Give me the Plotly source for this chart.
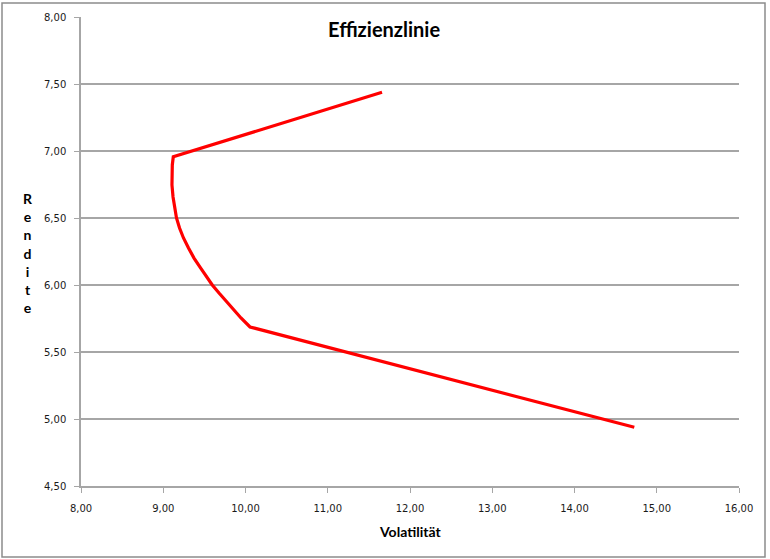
import plotly.graph_objects as go

# Data
volatility = [11.66, 9.122, 9.110, 9.104, 9.106, 9.119, 9.137, 9.161, 9.198, 9.246,
              9.307, 9.374, 9.447, 9.520, 9.596, 9.678, 9.763, 9.848, 9.945, 10.055, 14.727]
rendite = [7.438, 6.957, 6.896, 6.821, 6.746, 6.657, 6.575, 6.500, 6.425, 6.351,
           6.276, 6.201, 6.134, 6.067, 6.000, 5.940, 5.881, 5.821, 5.754, 5.687, 4.938]
title_text = "Effizienzlinie"
x_title = "Volatilität"
y_title = "Rendite"
x_ticks = [8, 9, 10, 11, 12, 13, 14, 15, 16]
y_ticks = [4.5, 5.0, 5.5, 6.0, 6.5, 7.0, 7.5, 8.0]

W, H = 770, 559
L, R, T, B = 81, 31, 17, 73
pw, ph = W - L - R, H - T - B

def px(xp):
    return (xp - L) / pw

def py(yp):
    return (H - B - yp) / ph

FONT = "Lato, 'Open Sans', sans-serif"
TICKFONT = "'DejaVu Sans', Verdana, sans-serif"

fig = go.Figure()
fig.add_trace(go.Scatter(
    x=volatility, y=rendite, mode="lines",
    line=dict(color="#ff0000", width=3.2),
    showlegend=False, hoverinfo="x+y",
))

axis_common = dict(
    showline=True, linecolor="#a6a6a6", linewidth=1.5,
    ticks="outside", ticklen=5, tickcolor="#a6a6a6", tickwidth=1,
    tickformat=".2f", tickfont=dict(family=TICKFONT, size=10, color="#1a1a1a"),
    zeroline=False, mirror=False,
)

fig.update_layout(
    width=W, height=H,
    margin=dict(l=L, r=R, t=T, b=B, pad=0),
    paper_bgcolor="white", plot_bgcolor="white",
    separators=",.",
    xaxis=dict(range=[8, 16], tickvals=x_ticks, showgrid=False,
               ticklabelstandoff=7, **axis_common),
    yaxis=dict(range=[4.5, 8], tickvals=y_ticks, showgrid=True,
               gridcolor="#a6a6a6", gridwidth=1.5, ticklabelstandoff=6,
               **axis_common),
    annotations=[
        dict(text="<b>" + title_text + "</b>", xref="paper", yref="paper",
             x=px(384), y=py(29), xanchor="center", yanchor="middle",
             showarrow=False, font=dict(family=FONT, size=20, color="#000")),
        dict(text="<b>" + x_title + "</b>", xref="paper", yref="paper",
             x=px(410), y=py(531), xanchor="center", yanchor="middle",
             showarrow=False, font=dict(family=FONT, size=14, color="#000")),
        dict(text="<b>" + "<br>".join(list(y_title)) + "</b>", xref="paper", yref="paper",
             x=px(28), y=py(253), xanchor="center", yanchor="middle",
             showarrow=False, font=dict(family=FONT, size=14, color="#000")),
    ],
    shapes=[
        dict(type="rect", xref="paper", yref="paper",
             x0=px(2), x1=px(765), y0=py(557), y1=py(3),
             line=dict(color="#8c8c8c", width=1.5), layer="below"),
    ],
)

fig.write_html(
    "out.html",
    config={"displayModeBar": False},
    post_script="document.body.style.margin='0px';document.body.style.overflow='hidden';",
)
